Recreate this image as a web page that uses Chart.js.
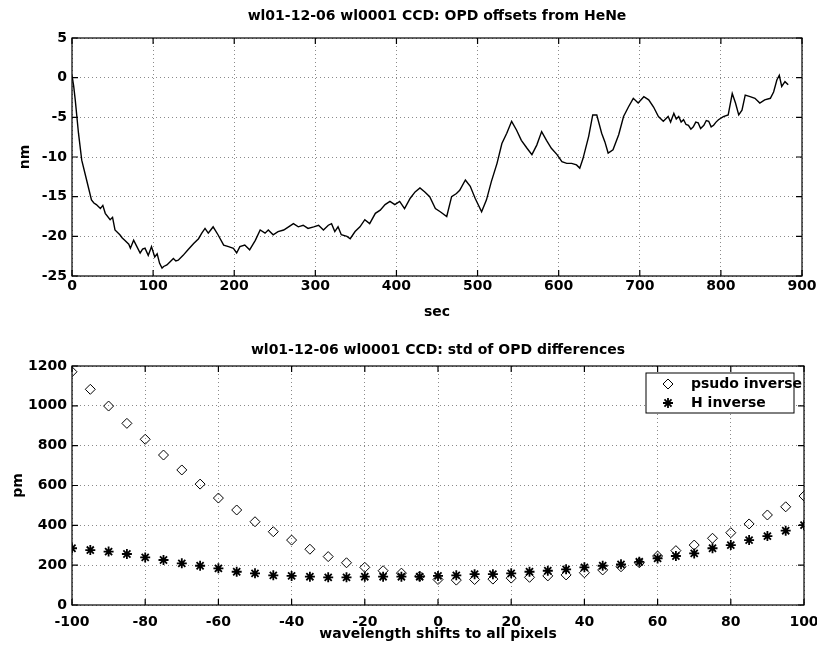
<!DOCTYPE html>
<html>
<head>
<meta charset="utf-8">
<script src="https://cdn.jsdelivr.net/npm/chart.js@4"></script>
<style>
body { margin: 0; background: #fff; }
canvas { position: absolute; left: 0; }
</style>
</head>
<body>
<canvas id="opdChart" width="817" height="325" style="top:0"></canvas>
<canvas id="stdChart" width="817" height="325" style="top:325px"></canvas>
<script>
'use strict';

// top plot: OPD offsets vs time
const opdSec = [
    0, 2, 4, 8, 12, 18, 24, 27, 30, 35,
    38, 41, 47, 50, 53, 59, 62, 65, 70, 72,
    76, 80, 84, 87, 90, 94, 98, 102, 105, 108,
    111, 113, 117, 121, 125, 128, 131, 137, 143, 150,
    156, 160, 164, 168, 171, 174, 180, 187, 193, 199,
    203, 207, 213, 219, 226, 232, 238, 242, 248, 254,
    261, 267, 273, 279, 285, 291, 298, 304, 310, 316,
    320, 324, 328, 332, 339, 343, 349, 355, 361, 367,
    374, 380, 386, 392, 398, 404, 410, 417, 423, 429,
    435, 441, 448, 454, 462, 468, 474, 478, 485, 491,
    497, 505, 511, 517, 524, 530, 536, 542, 548, 554,
    561, 567, 573, 579, 585, 591, 598, 604, 610, 616,
    622, 626, 630, 637, 642, 647, 653, 657, 661, 667,
    674, 680, 686, 692, 698, 705, 711, 717, 723, 729,
    735, 738, 742, 745, 748, 751, 754, 757, 760, 763,
    766, 769, 772, 775, 779, 782, 785, 788, 791, 794,
    797, 803, 809, 814, 818, 822, 826, 830, 836, 842,
    848, 854, 861, 865, 869, 872, 875, 879, 883
];
const opdNm = [
    0.3, -1.0, -2.8, -7, -10.4, -12.9, -15.4, -15.8, -16, -16.5,
    -16.1, -17.1, -17.9, -17.6, -19.2, -19.8, -20.2, -20.5, -21.0, -21.5,
    -20.5, -21.3, -22.1, -21.6, -21.5, -22.4, -21.3, -22.6, -22.2, -23.4,
    -24.0, -23.8, -23.6, -23.2, -22.8, -23.1, -23, -22.4, -21.7, -20.9,
    -20.3, -19.6, -19, -19.6, -19.2, -18.8, -19.8, -21.1, -21.3, -21.5,
    -22.1, -21.3, -21.1, -21.7, -20.5, -19.2, -19.6, -19.2, -19.8, -19.4,
    -19.2, -18.8, -18.4, -18.8, -18.6, -19, -18.8, -18.6, -19.2, -18.6,
    -18.4, -19.4, -18.8, -19.8, -20, -20.3, -19.4, -18.8, -17.9, -18.4,
    -17.1, -16.7, -16, -15.6, -16, -15.6, -16.5, -15.2, -14.4, -13.9,
    -14.4, -15, -16.5, -16.9, -17.5, -15, -14.6, -14.2, -12.9, -13.7,
    -15.2, -16.9, -15.4, -13.1, -10.8, -8.3, -7, -5.5, -6.6, -7.9,
    -8.9, -9.7, -8.5, -6.8, -7.9, -8.9, -9.7, -10.6, -10.8, -10.8,
    -11, -11.4, -10.2, -7.4, -4.7, -4.7, -7, -8.1, -9.5, -9.1,
    -7.2, -4.9, -3.7, -2.6, -3.2, -2.4, -2.8, -3.7, -4.9, -5.5,
    -4.9, -5.6, -4.5, -5.2, -4.9, -5.6, -5.3, -5.9, -6, -6.5,
    -6.2, -5.6, -5.7, -6.4, -6, -5.4, -5.5, -6.2, -6, -5.6,
    -5.3, -4.9, -4.7, -2, -3.2, -4.7, -4.1, -2.2, -2.4, -2.6,
    -3.2, -2.8, -2.6, -1.8, -0.3, 0.3, -1.1, -0.5, -0.9
];

// bottom plot: std of OPD differences vs wavelength shift
const shifts = [
    -100, -95, -90, -85, -80, -75, -70, -65, -60, -55, -50, -45, -40, -35,
    -30, -25, -20, -15, -10, -5, 0, 5, 10, 15, 20, 25, 30, 35, 40, 45,
    50, 55, 60, 65, 70, 75, 80, 85, 90, 95, 100
];
const psudoInverse = [
    1171, 1083, 999, 912, 832, 753, 678, 607, 537, 477, 418, 368, 326, 280,
    243, 212, 189, 172, 160, 145, 128, 125, 128, 130, 135, 139, 146, 151, 162, 176,
    192, 212, 246, 273, 301, 335, 363, 407, 452, 493, 547
];
const hInverse = [
    285, 276, 268, 256, 239, 226, 209, 197, 184, 167, 159, 149, 146, 142,
    139, 139, 142, 142, 142, 142, 146, 149, 155, 155, 159, 167, 172, 179, 189, 197,
    204, 217, 234, 246, 259, 285, 301, 326, 346, 373, 401
];

const topTitle = 'wl01-12-06 wl0001 CCD: OPD offsets from HeNe';
const bottomTitle = 'wl01-12-06 wl0001 CCD: std of OPD differences';

const FONT = 'DejaVu Sans';
const tickFont = { family: FONT, size: 14, weight: 'bold' };
const titleFont = { family: FONT, size: 14, weight: 'bold' };
const gridColor = '#8a8a8a';

// matlab style box with inward ticks
const boxPlugin = {
    id: 'box',
    afterDatasetsDraw(chart) {
        const { ctx, chartArea: a, scales } = chart;
        ctx.save();
        ctx.strokeStyle = '#000';
        ctx.lineWidth = 1.2;
        ctx.strokeRect(a.left, a.top, a.right - a.left, a.bottom - a.top);
        ctx.beginPath();
        scales.x.ticks.forEach(t => {
            const px = scales.x.getPixelForValue(t.value);
            ctx.moveTo(px, a.bottom); ctx.lineTo(px, a.bottom - 6);
            ctx.moveTo(px, a.top); ctx.lineTo(px, a.top + 6);
        });
        scales.y.ticks.forEach(t => {
            const py = scales.y.getPixelForValue(t.value);
            ctx.moveTo(a.left, py); ctx.lineTo(a.left + 6, py);
            ctx.moveTo(a.right, py); ctx.lineTo(a.right - 6, py);
        });
        ctx.stroke();
        ctx.restore();
    }
};

const legendBox = {
    id: 'legendBox',
    afterDraw(chart) {
        const { ctx, chartArea: a } = chart;
        const w = 148, h = 40;
        const left = a.right - 10 - w, top = a.top + 7;
        ctx.save();
        ctx.fillStyle = '#fff';
        ctx.fillRect(left, top, w, h);
        ctx.strokeStyle = '#000';
        ctx.lineWidth = 1;
        ctx.strokeRect(left, top, w, h);
        ctx.textBaseline = 'middle';
        chart.data.datasets.forEach((ds, i) => {
            const y = top + 11 + i * 19;
            ctx.fillStyle = 'rgba(0,0,0,0)';
            ctx.strokeStyle = '#000';
            ctx.lineWidth = ds.borderWidth;
            Chart.helpers.drawPoint(ctx, {
                pointStyle: ds.pointStyle, radius: ds.pointRadius,
                borderWidth: ds.borderWidth
            }, left + 22, y);
            ctx.fillStyle = '#000';
            ctx.font = 'bold 14px "' + FONT + '"';
            ctx.fillText(ds.label, left + 45, y);
        });
        ctx.restore();
    }
};

const plainNumber = v => String(v);

function axisCommon(extra) {
    return Object.assign({
        type: 'linear',
        grid: { color: gridColor, drawTicks: false, lineWidth: 1 },
        border: { display: false, dash: [1, 3] }
    }, extra);
}

// keep the plot box where it is, whatever the tick label widths
const noSidePadding = s => { s.paddingLeft = 0; s.paddingRight = 0; };

document.addEventListener('DOMContentLoaded', function () {
    const opdPoints = opdSec.map((s, i) => ({ x: s, y: opdNm[i] }));

    new Chart(document.getElementById('opdChart'), {
        type: 'scatter',
        data: {
            datasets: [{
                data: opdPoints,
                showLine: true,
                borderColor: '#000',
                borderWidth: 1.4,
                pointRadius: 0,
                tension: 0
            }]
        },
        options: {
            responsive: false,
            animation: false,
            devicePixelRatio: 1,
            layout: { padding: { left: 0, right: 15, top: 0, bottom: 0 } },
            plugins: {
                legend: { display: false },
                tooltip: { enabled: false },
                title: {
                    display: true, text: topTitle, color: '#000',
                    font: titleFont, fullSize: false,
                    padding: { top: 8, bottom: 13.2 }
                }
            },
            scales: {
                x: axisCommon({
                    min: 0, max: 900,
                    ticks: { color: '#000', font: tickFont, stepSize: 100, padding: 2, maxRotation: 0, callback: plainNumber },
                    title: { display: true, text: 'sec', color: '#000', font: tickFont, padding: { top: 0, bottom: 4 } },
                    afterFit: s => { s.height = 49; noSidePadding(s); }
                }),
                y: axisCommon({
                    min: -25, max: 5,
                    ticks: { color: '#000', font: tickFont, stepSize: 5, padding: 5, callback: plainNumber },
                    title: { display: true, text: 'nm', color: '#000', font: tickFont, padding: { top: 17, bottom: 0 } },
                    afterFit: s => { s.width = 72; }
                })
            }
        },
        plugins: [boxPlugin]
    });

    new Chart(document.getElementById('stdChart'), {
        type: 'scatter',
        data: {
            datasets: [{
                label: 'psudo inverse',
                data: shifts.map((s, i) => ({ x: s, y: psudoInverse[i] })),
                pointStyle: 'rectRot',
                pointRadius: 5,
                borderColor: '#000',
                backgroundColor: 'rgba(0,0,0,0)',
                borderWidth: 1
            }, {
                label: 'H inverse',
                data: shifts.map((s, i) => ({ x: s, y: hInverse[i] })),
                pointStyle: 'star',
                pointRadius: 5,
                borderColor: '#000',
                backgroundColor: '#000',
                borderWidth: 1.8
            }]
        },
        options: {
            responsive: false,
            animation: false,
            devicePixelRatio: 1,
            layout: { padding: { left: 0, right: 13, top: 0, bottom: 0 } },
            plugins: {
                legend: { display: false },
                tooltip: { enabled: false },
                title: {
                    display: true, text: bottomTitle, color: '#000',
                    font: titleFont, fullSize: false,
                    padding: { top: 17, bottom: 7.2 }
                }
            },
            scales: {
                x: axisCommon({
                    min: -100, max: 100,
                    ticks: { color: '#000', font: tickFont, stepSize: 20, padding: 9, maxRotation: 0, callback: plainNumber },
                    title: { display: true, text: 'wavelength shifts to all pixels', color: '#000', font: tickFont, padding: { top: 0, bottom: 7 } },
                    afterFit: s => { s.height = 45; noSidePadding(s); }
                }),
                y: axisCommon({
                    min: 0, max: 1200,
                    ticks: { color: '#000', font: tickFont, stepSize: 200, padding: 5, callback: plainNumber },
                    title: { display: true, text: 'pm', color: '#000', font: tickFont, padding: { top: 10, bottom: 0 } },
                    afterFit: s => { s.width = 72; }
                })
            }
        },
        plugins: [boxPlugin, legendBox]
    });
});
</script>
</body>
</html>
